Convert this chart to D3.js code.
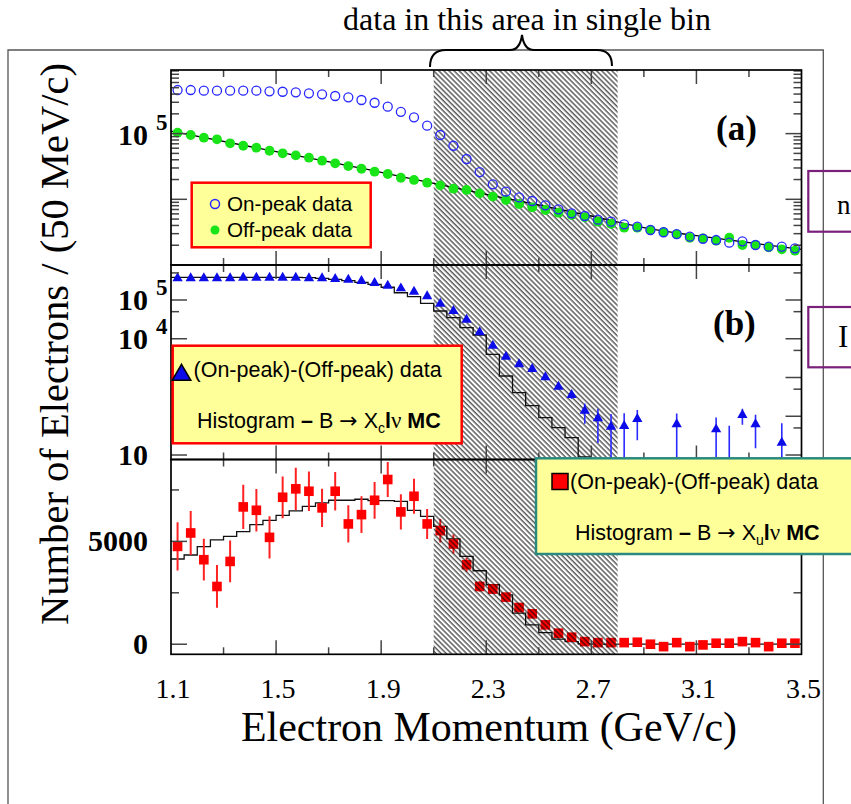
<!DOCTYPE html>
<html><head><meta charset="utf-8">
<script src="https://cdn.jsdelivr.net/npm/d3@7"></script>
<style>body{margin:0;background:#fff}svg{display:block}</style>
</head><body>
<svg id="c" width="851" height="804"></svg>
<script>
// ---------------- DATA ----------------
const binCenters = [1.125,1.175,1.225,1.275,1.325,1.375,1.425,1.475,1.525,1.575,1.625,1.675,1.725,1.775,1.825,1.875,
  1.925,1.975,2.025,2.075,2.125,2.175,2.225,2.275,2.325,2.375,2.425,2.475,2.525,2.575,2.625,2.675,
  2.725,2.775,2.825,2.875,2.925,2.975,3.025,3.075,3.125,3.175,3.225,3.275,3.325,3.375,3.425,3.475];
const binEdges = [1.1,1.15,1.2,1.25,1.3,1.35,1.4,1.45,1.5,1.55,1.6,1.65,1.7,1.75,1.8,1.85,1.9,1.95,2.0,2.05,2.1,2.15,2.2,2.25,
  2.3,2.35,2.4,2.45,2.5,2.55,2.6,2.65,2.7,2.75,2.8,2.85,2.9,2.95,3.0,3.05,3.1,3.15,3.2,3.25,3.3,3.35,3.4,3.45,3.5];

// panel (a)
const onPeak = [4.61e5,4.61e5,4.50e5,4.50e5,4.50e5,4.50e5,4.50e5,4.40e5,4.34e5,4.25e5,4.11e5,3.97e5,3.74e5,3.57e5,3.25e5,2.95e5,
  2.57e5,2.15e5,1.77e5,1.32e5,9.52e4,6.54e4,4.11e4,2.60e4,1.69e4,1.31e4,1.07e4,9420,8100,7040,6120,5570,
  4890,4560,4160,3830,3410,3150,2960,2700,2510,2400,2185,2295,2015,1900,1900,1795];
const offPeak = [1.032e5,9.52e4,8.66e4,8.19e4,7.12e4,6.54e4,6.10e4,5.49e4,5.01e4,4.67e4,4.30e4,3.87e4,3.53e4,3.21e4,2.92e4,2.63e4,
  2.43e4,2.13e4,1.97e4,1.79e4,1.63e4,1.45e4,1.39e4,1.23e4,1.10e4,9760,8480,7560,6870,6250,5770,5320,
  4560,4210,3695,3695,3410,3150,2930,2600,2550,2345,2600,2015,2015,1860,1734,1650];
const offFitX = [1.1,1.5,1.9,2.1,2.3,2.5,2.7,2.9,3.1,3.3,3.5];
const offFitY = [1.095e5,5.30e4,2.58e4,1.75e4,1.19e4,8190,5570,3695,2790,2185,1734];

// panel (b)
const subB = [3.63e5,3.63e5,3.63e5,3.63e5,3.63e5,3.76e5,3.76e5,3.76e5,3.76e5,3.76e5,3.63e5,3.63e5,3.48e5,3.34e5,3.09e5,2.75e5,
  2.34e5,2.00e5,1.64e5,1.25e5,8.03e4,5.20e4,3.10e4,1.47e4,6615,3442,2191,1657,1012,579,353,139,
  88.5,53.8,56,85,null,null,62,null,null,46,4,108,62,null,20.7,null];
const subBErr = [800,800,800,800,800,800,800,800,800,800,800,800,800,800,800,800,
  800,800,800,800,500,500,500,500,300,200,150,120,100,80,75,75,
  68,60,63,61,0,0,55,0,0,47,53,48,47,0,45,0];
const xcMC = [3.85e5,3.85e5,3.85e5,3.85e5,3.85e5,3.85e5,3.85e5,3.85e5,3.85e5,3.85e5,3.76e5,3.63e5,3.42e5,3.15e5,2.86e5,2.54e5,
  2.13e5,1.54e5,1.22e5,8.22e4,5.20e4,3.49e4,1.93e4,1.25e4,3970,1093,405,187,91.7,50.6,28,9.0,
  0,0,0,0,0,0,0,0,0,0,0,0,0,0,0,0];

// panel (c)
const subC = [4756,5409,4108,2807,4025,6676,6511,5195,7144,7554,7437,6628,7437,5848,6301,6998,
  8007,6433,7193,5848,5521,4873,3865,2807,2680,2290,1784,1477,941,536,341,127,
  78,78,78,97,0,-117,78,-117,-34,49,49,127,78,-117,49,49];
const subCErr = [1170,1072,1016,1040,1016,1072,1031,1031,1014,1023,960,933,936,909,892,894,
  853,853,853,731,570,463,341,250,230,200,170,150,120,100,90,80,
  80,80,80,80,80,80,80,80,80,80,80,80,80,80,80,80];
const xuMC = [4142,4337,4742,5068,5244,5473,5814,6023,6267,6481,6706,6871,6998,6998,7047,6983,
  6983,6949,6511,6218,5731,5117,4269,3572,2890,2403,1511,941,565,244,127,15,
  0,0,0,0,0,0,0,0,0,0,0,0,0,0,0,0];

const xTickValues = [1.1,1.5,1.9,2.3,2.7,3.1,3.5];
const xTickLabels = ["1.1","1.5","1.9","2.3","2.7","3.1","3.5"];
const xMinorTicks = [1.3,1.7,2.1,2.5,2.9,3.3];
const hatchRange = [2.1, 2.8];
const cTicksMajor = [0, 5000];
const cTicksMinor = [2500, 7500];
const cTickLabels = ["0", "5000"];

// ---------------- LAYOUT ----------------
const svg = d3.select("#c");
const L = 171, R = 801.5;
const A = {t:70, b:265}, B = {t:265, b:459.5}, C = {t:459.5, b:654.3};
const x = d3.scaleLinear().domain([1.1, 3.5]).range([L, R]);
const yA = d3.scaleLog().domain([1000, 9.3e5]).range([A.b, A.t]);
const yB = d3.scaleLog().domain([7.66, 8e5]).range([B.b, B.t]);
const yC = d3.scaleLinear().domain([-490, 8980]).range([C.b, C.t]);

const defs = svg.append("defs");
defs.append("pattern").attr("id","hatch").attr("patternUnits","userSpaceOnUse")
  .attr("width",3.6).attr("height",3.6).attr("patternTransform","rotate(-45)")
  .append("line").attr("x1",1).attr("y1",-1).attr("x2",1).attr("y2",5)
  .attr("stroke","#000").attr("stroke-width",0.95);
["A","B","C"].forEach((k,i)=>{
  const p=[A,B,C][i];
  defs.append("clipPath").attr("id","clip"+k).append("rect")
    .attr("x",L).attr("y",p.t).attr("width",R-L).attr("height",p.b-p.t);
});

// outer frame
svg.append("path").attr("d",`M8,810 L8,50 L823.3,50 L823.3,810`)
  .attr("fill","none").attr("stroke","#555").attr("stroke-width",1.3);

// title and brace
svg.append("text").attr("x",527).attr("y",30).attr("text-anchor","middle")
  .attr("font-family","Liberation Serif").attr("font-size",32).text("data in this area in single bin");
svg.append("path")
  .attr("d","M430,67 Q430,50 446,50 L510,50 Q520,50 522,35 Q524,50 534,50 L597,50 Q612,50 612,66")
  .attr("fill","none").attr("stroke","#000").attr("stroke-width",2);

// hist step path helper
function stepPath(vals, ys, floor){
  let d = "";
  vals.forEach((v,i)=>{
    const yy = v>0 ? ys(v) : floor;
    const x0 = x(binEdges[i]), x1 = x(binEdges[i+1]);
    d += (i===0 ? `M${x0},${yy}` : `L${x0},${yy}`) + `L${x1},${yy}`;
  });
  return d;
}

// ---------------- PANEL (c) ----------------
const gC = svg.append("g").attr("clip-path","url(#clipC)");
gC.append("path").attr("d", stepPath(xuMC.map(v=>v+1e-9), yC, yC(0)))
  .attr("fill","none").attr("stroke","#111").attr("stroke-width",1.3);
gC.selectAll("line.ec").data(subC).enter().append("line")
  .attr("x1",(d,i)=>x(binCenters[i])).attr("x2",(d,i)=>x(binCenters[i]))
  .attr("y1",(d,i)=>yC(d+subCErr[i])).attr("y2",(d,i)=>yC(d-subCErr[i]))
  .attr("stroke","#f22").attr("stroke-width",2);
gC.selectAll("rect.pc").data(subC).enter().append("rect")
  .attr("x",(d,i)=>x(binCenters[i])-4.8).attr("y",d=>yC(d)-4.8)
  .attr("width",9.6).attr("height",9.6).attr("fill","#f00");

// hatch
svg.append("rect").attr("x",x(hatchRange[0])).attr("y",A.t)
  .attr("width",x(hatchRange[1])-x(hatchRange[0])).attr("height",C.b-A.t)
  .attr("fill","url(#hatch)");

// ---------------- PANEL (a) ----------------
const gA = svg.append("g").attr("clip-path","url(#clipA)");
gA.append("path").datum(offFitX.map((v,i)=>[v,offFitY[i]]))
  .attr("d", d3.line().x(d=>x(d[0])).y(d=>yA(d[1])).curve(d3.curveMonotoneX))
  .attr("fill","none").attr("stroke","#000").attr("stroke-width",1.3);
gA.selectAll("circle.off").data(offPeak).enter().append("circle")
  .attr("cx",(d,i)=>x(binCenters[i])).attr("cy",d=>yA(d)).attr("r",4.9).attr("fill","#18e418");
gA.selectAll("circle.on").data(onPeak).enter().append("circle")
  .attr("cx",(d,i)=>x(binCenters[i])).attr("cy",d=>yA(d)).attr("r",4.5)
  .attr("fill","none").attr("stroke","#2828ff").attr("stroke-width",1.3);

// ---------------- PANEL (b) ----------------
const gB = svg.append("g").attr("clip-path","url(#clipB)");
gB.append("path").attr("d", stepPath(xcMC, yB, B.b+2))
  .attr("fill","none").attr("stroke","#111").attr("stroke-width",1.3);
const bIdx = subB.map((v,i)=>i).filter(i=>subB[i]!==null);
gB.selectAll("line.eb").data(bIdx).enter().append("line")
  .attr("x1",i=>x(binCenters[i])).attr("x2",i=>x(binCenters[i]))
  .attr("y1",i=>yB(subB[i]+subBErr[i]))
  .attr("y2",i=>subB[i]-subBErr[i]>0 ? yB(subB[i]-subBErr[i]) : B.b+2)
  .attr("stroke","#2a2aff").attr("stroke-width",1.6);
const tri = d3.symbol().type(d3.symbolTriangle).size(46);
gB.selectAll("path.tb").data(bIdx).enter().append("path")
  .attr("d",tri).attr("transform",i=>`translate(${x(binCenters[i])},${yB(subB[i])})`)
  .attr("fill","#0c0ce8");

// ---------------- FRAMES & TICKS ----------------
const tickCol = "#444";
function xTicks(p){
  xTickValues.slice(1,-1).forEach(v=>{
    svg.append("line").attr("x1",x(v)).attr("x2",x(v)).attr("y1",p.t).attr("y2",p.t+14).attr("stroke",tickCol).attr("stroke-width",1.5);
    svg.append("line").attr("x1",x(v)).attr("x2",x(v)).attr("y1",p.b).attr("y2",p.b-14).attr("stroke",tickCol).attr("stroke-width",1.5);
  });
  xMinorTicks.forEach(v=>{
    svg.append("line").attr("x1",x(v)).attr("x2",x(v)).attr("y1",p.t).attr("y2",p.t+7).attr("stroke",tickCol).attr("stroke-width",1.5);
    svg.append("line").attr("x1",x(v)).attr("x2",x(v)).attr("y1",p.b).attr("y2",p.b-7).attr("stroke",tickCol).attr("stroke-width",1.5);
  });
}
function yTick(yy,len){
  svg.append("line").attr("x1",L).attr("x2",L+len).attr("y1",yy).attr("y2",yy).attr("stroke",tickCol).attr("stroke-width",1.5);
  svg.append("line").attr("x1",R).attr("x2",R-len).attr("y1",yy).attr("y2",yy).attr("stroke",tickCol).attr("stroke-width",1.5);
}
[A,B,C].forEach(xTicks);
[1e3,1e4,1e5].forEach(dec=>{
  for(let m=1;m<=9;m++){ const v=m*dec; if(v<=9.3e5 && v>1000) yTick(yA(v), m===1?16:8); }
});
[10,100,1e3,1e4,1e5].forEach(dec=>{ yTick(yB(dec),16); if(5*dec<8e5) yTick(yB(5*dec),8); });
cTicksMajor.forEach(v=>yTick(yC(v),16));
cTicksMinor.forEach(v=>{ if(yC(v)>C.t) yTick(yC(v),8); });
[A,B,C].forEach(p=>{
  svg.append("rect").attr("x",L).attr("y",p.t).attr("width",R-L).attr("height",p.b-p.t)
    .attr("fill","none").attr("stroke","#000").attr("stroke-width",1.7);
});

// ---------------- AXIS LABELS ----------------
const serif = "Liberation Serif";
svg.selectAll("text.xt").data(xTickValues).enter().append("text")
  .attr("x",v=>x(v)+2).attr("y",698).attr("text-anchor","middle")
  .attr("font-family",serif).attr("font-size",28).text((v,i)=>xTickLabels[i]);
function powLabel(yBase, exp){
  svg.append("text").attr("x",148).attr("y",yBase).attr("text-anchor","end")
    .attr("font-family",serif).attr("font-weight","bold").attr("font-size",30).text("10");
  if(exp!==null){
    svg.append("text").attr("x",156).attr("y",yBase-15).attr("font-family",serif)
      .attr("font-weight","bold").attr("font-size",23).text(exp);
  }
}
powLabel(yA(1e5)+11, "5");
powLabel(yB(1e5)+10, "5");
powLabel(yB(1e4)+10, "4");
powLabel(yB(10)+10, null);
cTicksMajor.forEach((v,i)=>{
  svg.append("text").attr("x",148).attr("y",yC(v)+10).attr("text-anchor","end")
    .attr("font-family",serif).attr("font-weight","bold").attr("font-size",30).text(cTickLabels[i]);
});
svg.append("text").attr("x",489).attr("y",741).attr("text-anchor","middle")
  .attr("font-family",serif).attr("font-size",42).attr("textLength",496).attr("lengthAdjust","spacingAndGlyphs")
  .text("Electron Momentum (GeV/c)");
svg.append("text").attr("transform","translate(68,344) rotate(-90)").attr("text-anchor","middle")
  .attr("font-family",serif).attr("font-size",40.5).attr("textLength",562).attr("lengthAdjust","spacingAndGlyphs")
  .text("Number of Electrons / (50 MeV/c)");
svg.append("text").attr("x",716).attr("y",140).attr("font-family",serif).attr("font-weight","bold").attr("font-size",35).text("(a)");
svg.append("text").attr("x",713).attr("y",335).attr("font-family",serif).attr("font-weight","bold").attr("font-size",35).text("(b)");

// ---------------- LEGENDS ----------------
const sans = "Liberation Sans";
svg.append("rect").attr("x",191.7).attr("y",182.7).attr("width",179).attr("height",64.6)
  .attr("fill","#ffff99").attr("stroke","#f00").attr("stroke-width",2.5);
svg.append("circle").attr("cx",215).attr("cy",204).attr("r",4.5).attr("fill","none").attr("stroke","#2828ff").attr("stroke-width",1.5);
svg.append("text").attr("x",227).attr("y",211).attr("font-family",sans).attr("font-size",20.7).text("On-peak data");
svg.append("circle").attr("cx",215).attr("cy",230).attr("r",4.5).attr("fill","#18e418");
svg.append("text").attr("x",227).attr("y",237).attr("font-family",sans).attr("font-size",20.7).text("Off-peak data");

function mcLine(xx, yy, sub){
  const t = svg.append("text").attr("x",xx).attr("y",yy).attr("font-family",sans).attr("font-size",21.5);
  t.append("tspan").text("Histogram ");
  t.append("tspan").attr("font-weight","bold").text("–");
  t.append("tspan").text(" B ");
  t.append("tspan").attr("font-family","DejaVu Sans").attr("font-size",22).text("→");
  t.append("tspan").text(" X");
  t.append("tspan").attr("font-size",14).attr("dy",5).text(sub);
  t.append("tspan").attr("dy",-5).attr("font-weight","bold").text("l");
  t.append("tspan").attr("font-family",serif).attr("font-size",23).text("ν");
  t.append("tspan").text(" ");
  t.append("tspan").attr("font-weight","bold").text("MC");
}
svg.append("rect").attr("x",172.7).attr("y",345.7).attr("width",289).attr("height",97.6)
  .attr("fill","#ffff99").attr("stroke","#f00").attr("stroke-width",2.5);
svg.append("path").attr("d",d3.symbol().type(d3.symbolTriangle).size(150))
  .attr("transform","translate(181.5,375)").attr("fill","#0c0ce8").attr("stroke","#000").attr("stroke-width",1.5);
svg.append("text").attr("x",193.5).attr("y",377).attr("font-family",sans).attr("font-size",21.5).text("(On-peak)-(Off-peak) data");
mcLine(197, 428, "c");

// right-edge purple boxes (cut off by the picture edge)
svg.append("rect").attr("x",808.3).attr("y",171).attr("width",60).attr("height",60.7)
  .attr("fill","none").attr("stroke","#7a1f7a").attr("stroke-width",2.2);
svg.append("text").attr("x",837).attr("y",214).attr("font-family",serif).attr("font-size",27).text("n");
svg.append("rect").attr("x",808.3).attr("y",307).attr("width",60).attr("height",60.3)
  .attr("fill","none").attr("stroke","#7a1f7a").attr("stroke-width",2.2);
svg.append("text").attr("x",838).attr("y",347).attr("font-family",serif).attr("font-size",31).text("I");

svg.append("rect").attr("x",536).attr("y",458.3).attr("width",330).attr("height",95.7)
  .attr("fill","#ffff99").attr("stroke","#2b8a80").attr("stroke-width",2.5);
svg.append("rect").attr("x",552).attr("y",473.5).attr("width",16).attr("height",16)
  .attr("fill","#f00").attr("stroke","#000").attr("stroke-width",1.5);
svg.append("text").attr("x",570).attr("y",489).attr("font-family",sans).attr("font-size",21.5).text("(On-peak)-(Off-peak) data");
mcLine(575, 539.5, "u");
</script>
</body></html>
